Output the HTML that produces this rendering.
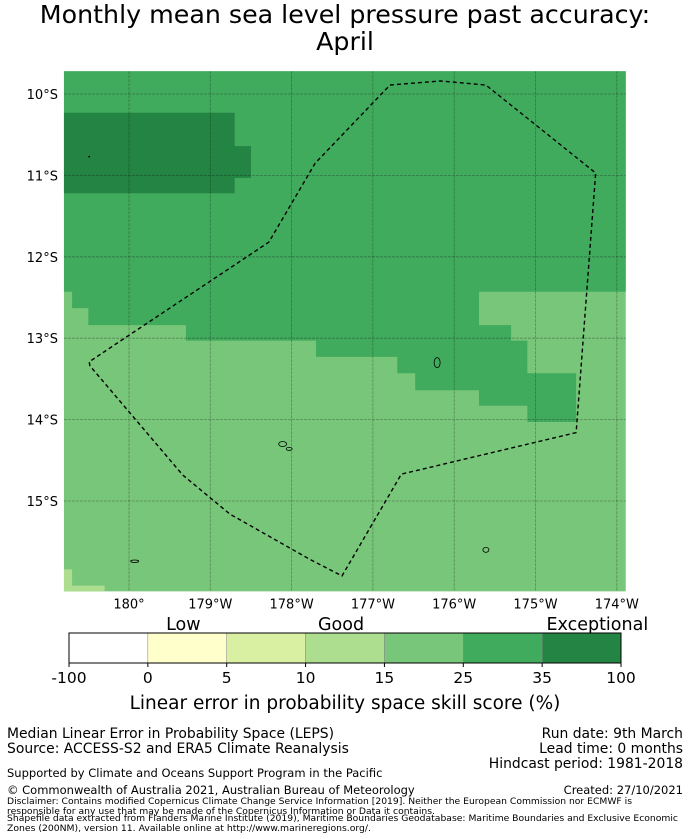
<!DOCTYPE html>
<html><head><meta charset="utf-8"><style>
body{margin:0;background:#fff;width:690px;height:839px;overflow:hidden;font-family:"DejaVu Sans","Liberation Sans",sans-serif}
svg{position:absolute;left:0;top:0}
</style></head><body>
<svg id="chart" width="690" height="839">
<text x="345" y="23" text-anchor="middle" font-size="25.3" fill="#000">Monthly mean sea level pressure past accuracy:</text>
<text x="345" y="50" text-anchor="middle" font-size="25.3" fill="#000">April</text>
<g id="map"></g>
<g id="cbar"></g>
<text x="345" y="709" text-anchor="middle" font-size="18.5">Linear error in probability space skill score (%)</text>
<g font-size="13.9">
<text x="7" y="738">Median Linear Error in Probability Space (LEPS)</text>
<text x="7" y="753">Source: ACCESS-S2 and ERA5 Climate Reanalysis</text>
</g>
<g font-size="13.9" text-anchor="end">
<text x="683" y="738">Run date: 9th March</text>
<text x="683" y="753">Lead time: 0 months</text>
<text x="683" y="768">Hindcast period: 1981-2018</text>
</g>
<text x="7" y="777" font-size="11.5">Supported by Climate and Oceans Support Program in the Pacific</text>
<text x="7" y="794" font-size="11.5">© Commonwealth of Australia 2021, Australian Bureau of Meteorology</text>
<text x="683" y="794" font-size="11.5" text-anchor="end">Created: 27/10/2021</text>
<g font-size="8.6">
<text x="7" y="804" textLength="625" lengthAdjust="spacingAndGlyphs">Disclaimer: Contains modified Copernicus Climate Change Service Information [2019]. Neither the European Commission nor ECMWF is</text>
<text x="7" y="814" textLength="428" lengthAdjust="spacingAndGlyphs">responsible for any use that may be made of the Copernicus Information or Data it contains.</text>
<text x="7" y="821" textLength="671" lengthAdjust="spacingAndGlyphs">Shapefile data extracted from Flanders Marine Institute (2019), Maritime Boundaries Geodatabase: Maritime Boundaries and Exclusive Economic</text>
<text x="7" y="831" textLength="364" lengthAdjust="spacingAndGlyphs">Zones (200NM), version 11. Available online at http://www.marineregions.org/.</text>
</g>
</svg>
<script>
// lon in degrees east (180..186 => 180..174W), lat in degrees south
const lonTicks=[180,181,182,183,184,185,186];
const lonLabels=["180°","179°W","178°W","177°W","176°W","175°W","174°W"];
const latTicks=[10,11,12,13,14,15];
const latLabels=["10°S","11°S","12°S","13°S","14°S","15°S"];
const extent=[179.2,186.11,9.72,16.11];
const greenRegion=[[179.2,9.72],[186.11,9.72],[186.11,12.43],[184.305,12.43],[184.305,12.84],[184.7,12.84],[184.7,13.03],[184.9,13.03],[184.9,13.43],[185.5,13.43],[185.5,14.03],[184.9,14.03],[184.9,13.83],[184.305,13.83],[184.305,13.64],[183.52,13.64],[183.52,13.43],[183.3,13.43],[183.3,13.23],[182.3,13.23],[182.3,13.03],[180.7,13.03],[180.7,12.84],[179.5,12.84],[179.5,12.63],[179.3,12.63],[179.3,12.43],[179.2,12.43]];
const darkRegion=[[179.2,10.23],[181.3,10.23],[181.3,10.64],[181.5,10.64],[181.5,11.03],[181.3,11.03],[181.3,11.22],[179.2,11.22]];
const paleRegion=[[179.2,15.84],[179.3,15.84],[179.3,16.04],[179.7,16.04],[179.7,16.11],[179.2,16.11]];
const eez=[[183.21,9.89],[183.83,9.84],[184.39,9.89],[185.74,10.97],[185.5,14.16],[183.35,14.67],[182.62,15.92],[182.23,15.72],[181.24,15.16],[180.66,14.68],[179.52,13.34],[179.51,13.29],[181.72,11.82],[182.29,10.85],[183.21,9.89]];
const cbBounds=["-100","0","5","10","15","25","35","100"];
const cbColors=["#ffffff","#ffffcc","#d9f0a3","#addd8e","#78c679","#41ab5d","#238443"];
const cbCats=["Low","Good","Exceptional"];
const cbCatPos=[1.45,3.45,6.7];

const X=lon=>129+(lon-180)*81.3;
const Y=lat=>94+(lat-10)*81.4;
const NS="http://www.w3.org/2000/svg";
function mk(t,a,p){const e=document.createElementNS(NS,t);for(const k in a)e.setAttribute(k,a[k]);p.appendChild(e);return e;}
const map=document.getElementById('map');
const x0=X(extent[0]),x1=X(extent[1]),y0=Y(extent[2]),y1=Y(extent[3]);
const bg=mk('rect',{x:x0,y:y0,width:x1-x0,height:y1-y0,fill:'#78c679'},map);


function poly(pts,fill,name){const p=mk('polygon',{points:pts.map(q=>X(q[0])+','+Y(q[1])).join(' '),fill:fill},map);

}
poly(paleRegion,'#addd8e','skill-cells-15-25');
poly(greenRegion,'#41ab5d','skill-cells-35-50');
poly(darkRegion,'#238443','skill-cells-50-100');
lonTicks.forEach((l,i)=>{const ln=mk('line',{x1:X(l),x2:X(l),y1:y0,y2:y1,stroke:'#000','stroke-opacity':0.3,'stroke-width':0.8,'stroke-dasharray':'3,1'},map);


const t=mk('text',{x:X(l),y:y1+17,'text-anchor':'middle','font-size':13},map);t.textContent=lonLabels[i];

});
latTicks.forEach((l,i)=>{const ln=mk('line',{x1:x0,x2:x1,y1:Y(l),y2:Y(l),stroke:'#000','stroke-opacity':0.3,'stroke-width':0.8,'stroke-dasharray':'3,1'},map);


const t=mk('text',{x:x0-6,y:Y(l)+5,'text-anchor':'end','font-size':13},map);t.textContent=latLabels[i];

});
const e=mk('polyline',{points:eez.map(q=>X(q[0])+','+Y(q[1])).join(' '),fill:'none',stroke:'#000','stroke-width':1.4,'stroke-dasharray':'4,3'},map);


[[183.79,13.3,3,5],[181.89,14.3,4,2.5],[181.97,14.36,3,1.5],[184.39,15.6,3,2.5],[180.07,15.74,4,1.2],[179.51,10.77,0.6,0.4]].forEach(s=>{
const el=mk('ellipse',{cx:X(s[0]),cy:Y(s[1]),rx:s[2],ry:s[3],fill:'none',stroke:'#000','stroke-width':0.8},map);

});
// colorbar
const cb=document.getElementById('cbar');
const cbx=69,cbw=552,cby=633,cbh=30,n=cbColors.length,sw=cbw/n;
cbColors.forEach((c,i)=>{const r=mk('rect',{x:cbx+i*sw,y:cby,width:sw,height:cbh,fill:c,stroke:'#888','stroke-width':0.5},cb);

});
mk('rect',{x:cbx,y:cby,width:cbw,height:cbh,fill:'none',stroke:'#000','stroke-width':1},cb);
cbBounds.forEach((b,i)=>{mk('line',{x1:cbx+i*sw,x2:cbx+i*sw,y1:cby+cbh,y2:cby+cbh+4,stroke:'#000'},cb);
const t=mk('text',{x:cbx+i*sw,y:cby+cbh+20,'text-anchor':'middle','font-size':15.5},cb);t.textContent=b;

});
cbCats.forEach((c,i)=>{const t=mk('text',{x:cbx+cbCatPos[i]*sw,y:cby-3,'text-anchor':'middle','font-size':17.5},cb);t.textContent=c;

});
</script>
</body></html>
